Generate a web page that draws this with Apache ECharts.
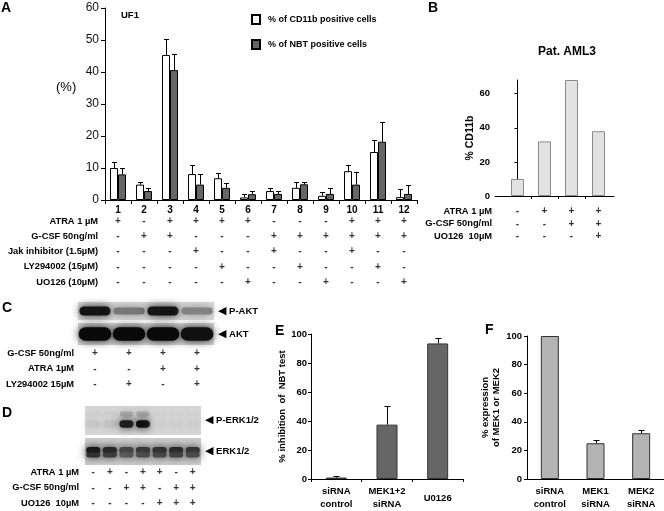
<!DOCTYPE html>
<html><head><meta charset="utf-8">
<script src="https://cdn.jsdelivr.net/npm/echarts@6/dist/echarts.min.js"></script>
<style>html,body{margin:0;padding:0;background:#fff}#c{width:664px;height:511px}</style>
</head><body><div id="c"></div>
<script>
const NF = "'Liberation Sans',Arial,sans-serif";
const RF = "'Liberation Sans',Arial,sans-serif";

// ---------- Panel A ----------
const aCategories = ['1','2','3','4','5','6','7','8','9','10','11','12'];
const aCd11b    = [10, 4.8, 45.3, 8.1, 6.8, 0.8, 2.8, 3.8, 1.3, 9, 15, 0.9];
const aCd11bErr = [1.9, 0.9, 5.1, 2.8, 1.6, 1, 0.9, 1.9, 1.1, 2, 3.8, 2.6];
const aNbt      = [8, 2.8, 40.6, 4.8, 3.8, 1.8, 1.9, 4.9, 1.9, 4.8, 18.2, 1.9];
const aNbtErr   = [2, 0.9, 5, 3.2, 1.5, 1, 0.9, 0.8, 1.8, 4.1, 6.3, 2.8];
const aRowLabels = ['ATRA 1 µM','G-CSF 50ng/ml','Jak inhibitor (1.5µM)','LY294002 (15µM)','UO126 (10µM)'];
const aAtra = ['+','-','+','+','+','+','-','-','-','+','+','+'];
const aGcsf = ['-','+','+','-','-','-','+','+','+','+','+','+'];
const aJak  = ['-','-','-','+','-','-','+','-','-','+','-','-'];
const aLy   = ['-','-','-','-','+','-','-','+','-','-','+','-'];
const aUo   = ['-','-','-','-','-','+','-','-','+','-','-','+'];

// ---------- Panel B ----------
const bCategories = [0, 1, 2, 3];
const bCd11b = [10, 32, 68, 38];
const bYTicks = [0, 20, 40, 60];
const bRowLabels = ['ATRA 1 µM','G-CSF 50ng/ml','UO126  10µM'];
const bAtra = ['-','+','+','+'];
const bGcsf = ['-','-','+','+'];
const bUo   = ['-','-','-','+'];

// ---------- Panel C (blot band intensities) ----------
const cLanes = [0, 1, 2, 3];
const cPAkt = [0.95, 0.45, 0.95, 0.4];
const cAkt  = [1, 1, 1, 0.97];
const cRowLabels = ['G-CSF 50ng/ml','ATRA 1µM','LY294002 15µM'];
const cGcsf = ['+','+','+','+'];
const cAtra = ['-','-','+','+'];
const cLy   = ['-','+','-','+'];

// ---------- Panel D ----------
const dLanes = [0, 1, 2, 3, 4, 5, 6];
const dPErk = [0.06, 0.08, 0.9, 0.97, 0.02, 0.02, 0.02];
const dErk  = [0.95, 0.88, 0.72, 0.78, 0.82, 0.85, 0.8];
const dRowLabels = ['ATRA 1 µM','G-CSF 50ng/ml','UO126  10µM'];
const dAtra = ['-','+','-','+','+','-','+'];
const dGcsf = ['-','-','+','+','-','+','+'];
const dUo   = ['-','-','-','-','+','+','+'];

// ---------- Panel E ----------
const eCategories = ['siRNA\ncontrol','MEK1+2\nsiRNA','U0126'];
const eValues = [1, 37.5, 93.5];
const eErr    = [0.8, 13, 4];

// ---------- Panel F ----------
const fCategories = ['siRNA\ncontrol','MEK1\nsiRNA','MEK2\nsiRNA'];
const fValues = [100, 25, 32];
const fErr    = [0, 2, 2.5];

const BLK = '#000';

function errRender(dx, cap) {
  return function (params, api) {
    const x = api.value(0), v = api.value(1), e = api.value(2);
    if (!e) return null;
    const p0 = api.coord([x, v]);
    const p1 = api.coord([x, v + e]);
    const cx = Math.round(p0[0] + dx) + 0.5;
    const ty = Math.round(p1[1]) + 0.5;
    return {type: 'group', children: [
      {type: 'line', shape: {x1: cx, y1: p0[1], x2: cx, y2: ty}, style: {stroke: BLK, lineWidth: 1}},
      {type: 'line', shape: {x1: cx - cap, y1: ty, x2: cx + cap, y2: ty}, style: {stroke: BLK, lineWidth: 1}}
    ]};
  };
}

function blotRender(kind) {
  return function (params, api) {
    const lane = api.value(0), k = api.value(2);
    const c = api.coord([lane, 0]);
    const w = api.size([1, 0])[0];
    const h = api.size([0, 1])[1];
    const children = [];
    function band(offset, bh, kk, wf) {
      const g = Math.round(210 - kk * 200);
      const col = 'rgb(' + g + ',' + g + ',' + g + ')';
      const bw = w * (wf || 0.9);
      children.push({type: 'rect', shape: {x: c[0] - bw / 2, y: c[1] + offset - bh / 2, width: bw, height: bh, r: bh / 2},
        style: {fill: col, shadowBlur: 8, shadowColor: col}});
    }
    if (kind === 'pakt') band(0, h * (0.3 + 0.22 * k), k, 0.92);
    if (kind === 'akt') band(0, h * 0.62, k, 0.96);
    if (kind === 'perk') { band(-h * 0.22, h * 0.18, k * 0.22, 0.8); band(h * 0.12, h * 0.26, k, 0.85); }
    if (kind === 'erk') { band(-h * 0.05, h * 0.24, k, 0.86); band(h * 0.13, h * 0.18, k * 0.85, 0.86); }
    return {type: 'group', children};
  };
}

function signData(rows) {
  const out = [];
  rows.forEach((arr, r) => arr.forEach((s, c) => out.push([c, r, s])));
  return out;
}
function signSeries(idx, rows) {
  return {type: 'scatter', xAxisIndex: idx, yAxisIndex: idx, symbolSize: 1, silent: true,
    itemStyle: {color: 'transparent'}, data: signData(rows),
    label: {show: true, position: 'inside', formatter: p => p.value[2],
      fontFamily: RF, fontWeight: 'bold', fontSize: 10, color: BLK}};
}

const boldN = (size) => ({fontFamily: NF, fontWeight: 'bold', fontSize: size, color: BLK});

const hiddenCat = (idx, data) => ({type: 'category', gridIndex: idx, data: data, show: false});
const rowAxis = (idx, labels, margin) => ({type: 'category', gridIndex: idx, data: labels, inverse: true,
  axisLine: {show: false}, axisTick: {show: false},
  axisLabel: Object.assign({margin: margin, interval: 0}, boldN(9.3))});
const blotAxis = (idx, label) => ({type: 'category', gridIndex: idx, data: [label], position: 'right',
  axisLine: {show: false}, axisTick: {show: false},
  axisLabel: Object.assign({margin: 4, interval: 0, formatter: v => '{a|◀} ' + v,
    rich: {a: {fontFamily: 'DejaVu Sans', fontSize: 11, color: BLK}}}, boldN(9.5))});

const grids = [
  {left: 105, top: 8, width: 312, height: 192},            // 0 A chart
  {left: 105, top: 213.4, width: 312, height: 76.3},       // 1 A table
  {left: 495, top: 80, width: 119, height: 116},           // 2 B chart
  {left: 495, top: 205, width: 119, height: 37.5},         // 3 B table
  {left: 78, top: 302, width: 136, height: 18, show: true, backgroundColor: '#dcdcdc', borderWidth: 0}, // 4 P-AKT
  {left: 78, top: 323, width: 136, height: 22, show: true, backgroundColor: '#d4d4d4', borderWidth: 0}, // 5 AKT
  {left: 78, top: 345.5, width: 136, height: 46.5},        // 6 C table
  {left: 85, top: 406, width: 116, height: 29, show: true, backgroundColor: '#d6d6d6', borderWidth: 0}, // 7 P-ERK
  {left: 85, top: 438, width: 116, height: 27, show: true, backgroundColor: '#cdcdcd', borderWidth: 0}, // 8 ERK
  {left: 85, top: 464.75, width: 116, height: 49.5},       // 9 D table
  {left: 311, top: 334, width: 152, height: 150},          // 10 E
  {left: 527, top: 336, width: 137, height: 150}           // 11 F
];

const axisLineBlk = {show: true, lineStyle: {color: BLK, width: 1}};

const xAxes = [
  {type: 'category', gridIndex: 0, data: aCategories, axisLine: axisLineBlk,
    axisTick: {show: true, length: 4, lineStyle: {color: BLK}}, axisLabel: Object.assign({margin: 5, interval: 0}, boldN(10))},
  hiddenCat(1, aCategories),
  {type: 'value', gridIndex: 2, min: -0.833, max: 3.574, axisLine: axisLineBlk, splitLine: {show: false},
    axisTick: {show: true, length: 3, lineStyle: {color: BLK}, customValues: [0.5, 1.5, 2.5]},
    axisLabel: {show: false}},
  {type: 'value', gridIndex: 3, min: -0.833, max: 3.574, show: false, splitLine: {show: false}},
  hiddenCat(4, cLanes), hiddenCat(5, cLanes), hiddenCat(6, cLanes),
  hiddenCat(7, dLanes), hiddenCat(8, dLanes), hiddenCat(9, dLanes),
  {type: 'category', gridIndex: 10, axisLine: axisLineBlk,
    data: [eCategories[0], eCategories[1], {value: eCategories[2], textStyle: {padding: [7, 0, 0, 0]}}],
    axisTick: {show: true, length: 3, lineStyle: {color: BLK}},
    axisLabel: Object.assign({margin: 6, lineHeight: 13, interval: 0}, boldN(9.5))},
  {type: 'category', gridIndex: 11, data: fCategories, axisLine: axisLineBlk,
    axisTick: {show: false},
    axisLabel: Object.assign({margin: 6, lineHeight: 13, interval: 0}, boldN(9.5))}
];

const yAxes = [
  {type: 'value', gridIndex: 0, min: 0, max: 60, interval: 10, axisLine: axisLineBlk, splitLine: {show: false},
    axisTick: {show: true, length: 4, lineStyle: {color: BLK}},
    axisLabel: {margin: 6, fontFamily: RF, fontSize: 12, color: '#111'}},
  rowAxis(1, aRowLabels, 7),
  {type: 'value', gridIndex: 2, min: 0, max: 68, axisLine: axisLineBlk, splitLine: {show: false},
    axisTick: {show: true, length: 3, lineStyle: {color: BLK}, customValues: bYTicks},
    axisLabel: Object.assign({margin: 5, customValues: bYTicks}, boldN(9.5)),
    name: '% CD11b', nameLocation: 'middle', nameRotate: 90, nameGap: 19, nameTextStyle: boldN(10.5)},
  rowAxis(3, bRowLabels, 3),
  blotAxis(4, 'P-AKT'), blotAxis(5, 'AKT'),
  rowAxis(6, cRowLabels, 4),
  blotAxis(7, 'P-ERK1/2'), blotAxis(8, 'ERK1/2'),
  rowAxis(9, dRowLabels, 6),
  {type: 'value', gridIndex: 10, min: 0, max: 100, interval: 20, axisLine: axisLineBlk, splitLine: {show: false},
    axisTick: {show: true, length: 3, lineStyle: {color: BLK}},
    axisLabel: Object.assign({margin: 4}, boldN(9.5)),
    name: '% inhibition  of  NBT test', nameLocation: 'middle', nameRotate: 90, nameGap: 24, nameTextStyle: boldN(9.5)},
  {type: 'value', gridIndex: 11, min: 0, max: 100, interval: 20, axisLine: axisLineBlk, splitLine: {show: false},
    axisTick: {show: true, length: 3, lineStyle: {color: BLK}},
    axisLabel: Object.assign({margin: 5}, boldN(9.5)),
    name: '% expression\nof MEK1 or MEK2', nameLocation: 'middle', nameRotate: 90, nameGap: 22,
    nameTextStyle: Object.assign({lineHeight: 11}, boldN(9.5))}
];

const series = [
  {name: '% of CD11b positive cells', type: 'bar', xAxisIndex: 0, yAxisIndex: 0, data: aCd11b,
    barWidth: 8, barGap: '0%', itemStyle: {color: '#fff', borderColor: BLK, borderWidth: 1}},
  {name: '% of NBT positive cells', type: 'bar', xAxisIndex: 0, yAxisIndex: 0, data: aNbt,
    barWidth: 8, barGap: '0%', itemStyle: {color: '#666', borderColor: BLK, borderWidth: 1}},
  {type: 'custom', xAxisIndex: 0, yAxisIndex: 0, renderItem: errRender(-4, 2.5), silent: true,
    data: aCd11b.map((v, i) => [i, v, aCd11bErr[i]]), encode: {x: 0, y: 1}, z: 3},
  {type: 'custom', xAxisIndex: 0, yAxisIndex: 0, renderItem: errRender(4, 2.5), silent: true,
    data: aNbt.map((v, i) => [i, v, aNbtErr[i]]), encode: {x: 0, y: 1}, z: 3},
  signSeries(1, [aAtra, aGcsf, aJak, aLy, aUo]),
  {type: 'bar', xAxisIndex: 2, yAxisIndex: 2, barWidth: 13,
    data: bCd11b.map((v, i) => [bCategories[i], v]),
    itemStyle: {color: '#e2e2e2', borderColor: '#8a8a8a', borderWidth: 1}},
  signSeries(3, [bAtra, bGcsf, bUo]),
  {type: 'custom', xAxisIndex: 4, yAxisIndex: 4, renderItem: blotRender('pakt'), silent: true,
    data: cPAkt.map((k, i) => [i, 0, k]), encode: {x: 0, y: 1}},
  {type: 'custom', xAxisIndex: 5, yAxisIndex: 5, renderItem: blotRender('akt'), silent: true,
    data: cAkt.map((k, i) => [i, 0, k]), encode: {x: 0, y: 1}},
  signSeries(6, [cGcsf, cAtra, cLy]),
  {type: 'custom', xAxisIndex: 7, yAxisIndex: 7, renderItem: blotRender('perk'), silent: true,
    data: dPErk.map((k, i) => [i, 0, k]), encode: {x: 0, y: 1}},
  {type: 'custom', xAxisIndex: 8, yAxisIndex: 8, renderItem: blotRender('erk'), silent: true,
    data: dErk.map((k, i) => [i, 0, k]), encode: {x: 0, y: 1}},
  signSeries(9, [dAtra, dGcsf, dUo]),
  {type: 'bar', xAxisIndex: 10, yAxisIndex: 10, data: eValues, barWidth: 21,
    itemStyle: {color: '#666', borderColor: '#333', borderWidth: 1}},
  {type: 'custom', xAxisIndex: 10, yAxisIndex: 10, renderItem: errRender(0, 3), silent: true,
    data: eValues.map((v, i) => [i, v, eErr[i]]), encode: {x: 0, y: 1}, z: 3},
  {type: 'bar', xAxisIndex: 11, yAxisIndex: 11, data: fValues, barWidth: 18,
    itemStyle: {color: '#b4b4b4', borderColor: '#333', borderWidth: 1}},
  {type: 'custom', xAxisIndex: 11, yAxisIndex: 11, renderItem: errRender(0, 3), silent: true,
    data: fValues.map((v, i) => [i, v, fErr[i]]), encode: {x: 0, y: 1}, z: 3}
];

const letter = (t, x, y) => ({type: 'text', left: x, top: y,
  style: {text: t, fontFamily: RF, fontWeight: 'bold', fontSize: 14, fill: BLK}});

const option = {
  animation: false,
  backgroundColor: '#fff',
  grid: grids,
  xAxis: xAxes,
  yAxis: yAxes,
  series: series,
  legend: {left: 246, top: 9, orient: 'vertical', itemWidth: 8, itemHeight: 9, itemGap: 14,
    icon: 'rect', data: ['% of CD11b positive cells', '% of NBT positive cells'],
    textStyle: Object.assign({padding: [0, 0, 0, 3]}, boldN(9))},
  graphic: [
    letter('A', 1, 1), letter('B', 428, 1), letter('C', 2, 301), letter('D', 2, 406),
    letter('E', 275, 324), letter('F', 485, 323),
    {type: 'text', left: 121, top: 10, style: {text: 'UF1', fontFamily: NF, fontWeight: 'bold', fontSize: 9.5, fill: BLK}},
    {type: 'text', left: 56, top: 81, style: {text: '(%)', fontFamily: RF, fontSize: 13, fill: BLK}},
    {type: 'text', left: 538, top: 46, style: {text: 'Pat. AML3', fontFamily: NF, fontWeight: 'bold', fontSize: 12, fill: BLK}}
  ]
};

const chart = echarts.init(document.getElementById('c'), null, {renderer: 'canvas'});
chart.setOption(option);
</script></body></html>
